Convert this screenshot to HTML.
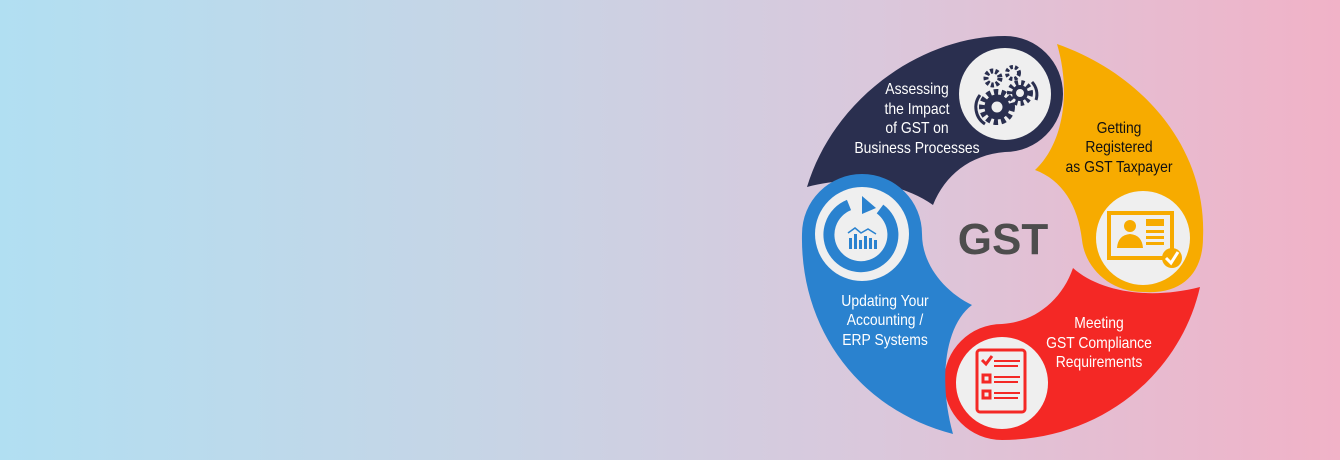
<!DOCTYPE html>
<html><head><meta charset="utf-8"><style>
html,body{margin:0;padding:0}
body{width:1340px;height:460px;overflow:hidden;background:linear-gradient(90deg,#b1dff2 0%,#c6d5e6 35%,#dac8dc 65%,#f1b2c7 100%)}
svg{position:absolute;left:0;top:0}
text{font-family:"Liberation Sans",sans-serif}
</style></head><body>
<svg width="1340" height="460" viewBox="0 0 1340 460">
<path d="M807,187 C835,95 925,36 1005,36 A58,58 0 0,1 1005,152 C970,155 945,175 933,205 C900,182 850,175 807,187 Z" fill="#2a2f4f"/>
<path d="M1057,44 C1145,75 1207,150 1203,238 C1203,270 1185,295 1143,292 C1110,292 1085,268 1082,240 C1078,205 1062,180 1035,170 C1062,145 1072,95 1057,44 Z" fill="#f7ab00"/>
<path d="M1200,287 C1180,375 1100,440 1002,440 A58,58 0 0,1 1002,324 C1035,322 1062,300 1073,268 C1100,292 1150,300 1200,287 Z" fill="#f42825"/>
<path d="M953,434 C860,410 800,330 802,234 A60,60 0 0,1 922,234 C922,265 945,292 972,305 C945,325 938,380 953,434 Z" fill="#2a82cf"/>
<circle cx="1005" cy="94" r="46" fill="#efefef"/>
<circle cx="1143" cy="238" r="47" fill="#efefef"/>
<circle cx="1002" cy="383" r="46" fill="#efefef"/>
<circle cx="862" cy="234" r="47" fill="#efefef"/>
<g fill="none" stroke="#2a2f4f">
<circle cx="997" cy="107" r="14" stroke-width="8" stroke-dasharray="4 3"/>
<circle cx="997" cy="107" r="9" stroke-width="7"/>
<circle cx="1020" cy="93" r="10" stroke-width="6" stroke-dasharray="3 3"/>
<circle cx="1020" cy="93" r="6" stroke-width="4"/>
<circle cx="993" cy="78" r="7" stroke-width="5" stroke-dasharray="3 2"/>
<circle cx="1013" cy="73" r="6" stroke-width="4" stroke-dasharray="3 2"/>
<path d="M980,95 A20,20 0 0,0 985,124" stroke-width="3"/>
<path d="M1032,82 A18,18 0 0,1 1036,100" stroke-width="3"/>
</g>
<g fill="#f7ab00">
<rect x="1109" y="213" width="63" height="45" fill="none" stroke="#f7ab00" stroke-width="4"/>
<circle cx="1130" cy="226" r="6"/>
<path d="M1117,248 Q1118,235 1130,234 Q1142,235 1143,248 Z"/>
<rect x="1146" y="219" width="18" height="7"/>
<rect x="1146" y="230" width="18" height="3"/>
<rect x="1146" y="236" width="18" height="3"/>
<rect x="1146" y="242" width="18" height="3"/>
<circle cx="1172" cy="258" r="10"/>
<path d="M1166,258 L1171,263 L1178,252" fill="none" stroke="#fff" stroke-width="3"/>
</g>
<g fill="none" stroke="#f42825" stroke-width="3">
<rect x="977" y="350" width="48" height="62" rx="3"/>
<rect x="983" y="375" width="7" height="7"/>
<rect x="983" y="391" width="7" height="7"/>
<path d="M982,360 L986,364 L992,356"/>
<path d="M994,361 H1020 M994,366 H1018 M994,377 H1020 M994,382 H1018 M994,393 H1020 M994,398 H1018" stroke-width="2"/>
</g>
<g>
<path d="M880,209 A32,32 0 1,1 849,205" fill="none" stroke="#2a82cf" stroke-width="11"/>
<path d="M862,196 L876,208 L862,214 Z" fill="#2a82cf"/>
<g fill="#2a82cf"><rect x="849" y="238" width="3" height="11"/><rect x="854" y="234" width="3" height="15"/><rect x="859" y="240" width="3" height="9"/><rect x="864" y="236" width="3" height="13"/><rect x="869" y="238" width="3" height="11"/><rect x="874" y="240" width="3" height="9"/></g>
<path d="M848,233 L855,228 L861,233 L868,229 L876,234" fill="none" stroke="#2a82cf" stroke-width="1.5"/>
</g>
<g fill="#fff" font-size="16" text-anchor="middle">
<g transform="translate(917,0) scale(0.87,1)"><text x="0" y="94">Assessing</text><text x="0" y="114">the Impact</text><text x="0" y="133">of GST on</text><text x="0" y="153">Business Processes</text></g>
<g transform="translate(1099,0) scale(0.87,1)"><text x="0" y="328">Meeting</text><text x="0" y="348">GST Compliance</text><text x="0" y="367">Requirements</text></g>
<g transform="translate(885,0) scale(0.87,1)"><text x="0" y="306">Updating Your</text><text x="0" y="325">Accounting /</text><text x="0" y="345">ERP Systems</text></g>
</g>
<g fill="#111" font-size="16" text-anchor="middle" transform="translate(1119,0) scale(0.87,1)">
<text x="0" y="133">Getting</text><text x="0" y="152">Registered</text><text x="0" y="172">as GST Taxpayer</text>
</g>
<text x="1003" y="254" text-anchor="middle" font-size="44" font-weight="bold" fill="#4d4d4d">GST</text>
</svg>
</body></html>
